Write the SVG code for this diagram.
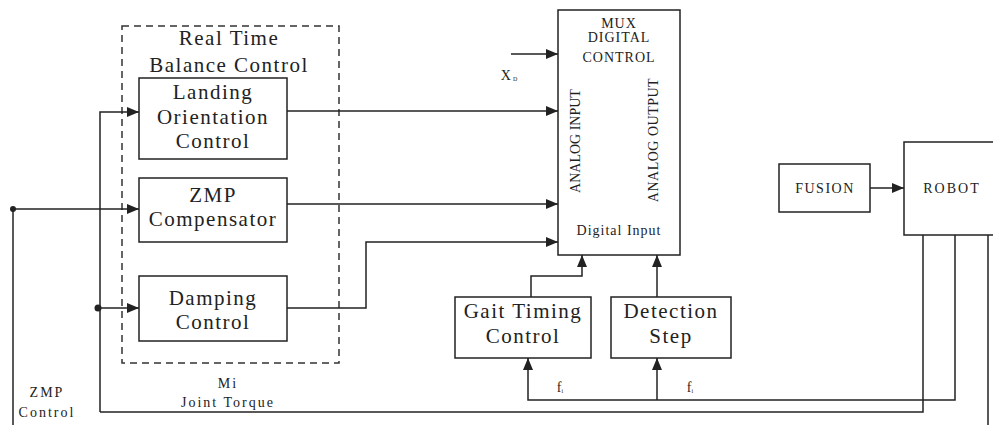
<svg xmlns="http://www.w3.org/2000/svg" width="993" height="425" viewBox="0 0 993 425">
<style>
.box{fill:#fff;stroke:#222;stroke-width:1.5}
.ln{fill:none;stroke:#222;stroke-width:1.5}
.arr{marker-end:url(#ah)}
text{font-family:"Liberation Serif","Times New Roman",Tinos,"DejaVu Serif",serif;fill:#222;text-anchor:middle}
.big{font-size:21px;letter-spacing:1.5px}
.sm{font-size:14px}
</style>
<defs>
<marker id="ah" markerUnits="userSpaceOnUse" markerWidth="13" markerHeight="10" refX="12" refY="5" orient="auto">
<path d="M0,0 L12,5 L0,10 Z" fill="#222"/>
</marker>
</defs>
<rect width="993" height="425" fill="#fff"/>

<g id="rtbc">
<rect x="122" y="26" width="217" height="337" fill="none" stroke="#333" stroke-width="1.5" stroke-dasharray="7,5"/>
<text class="big" x="229" y="45" font-size="20" letter-spacing="2">Real Time</text>
<text class="big" x="229" y="72" font-size="20" letter-spacing="2">Balance Control</text>
</g>

<g id="landing">
<rect class="box" x="139" y="78" width="148" height="81"/>
<text class="big" x="213" y="99">Landing</text>
<text class="big" x="213" y="124">Orientation</text>
<text class="big" x="213" y="148">Control</text>
</g>

<g id="zmpcomp">
<rect class="box" x="139" y="178" width="148" height="64"/>
<text class="big" x="213" y="202">ZMP</text>
<text class="big" x="213" y="226">Compensator</text>
</g>

<g id="damping">
<rect class="box" x="139" y="276" width="148" height="65"/>
<text class="big" x="213" y="305">Damping</text>
<text class="big" x="213" y="329">Control</text>
</g>

<g id="mux">
<rect class="box" x="558" y="10" width="122" height="245"/>
<text class="sm" x="619" y="28" letter-spacing="1">MUX</text>
<text class="sm" x="619" y="42" letter-spacing="1">DIGITAL</text>
<text class="sm" x="619" y="62" letter-spacing="1">CONTROL</text>
<text class="sm" transform="translate(580,141) rotate(-90)">ANALOG INPUT</text>
<text class="sm" transform="translate(658,140) rotate(-90)" letter-spacing="0.5">ANALOG OUTPUT</text>
<text class="sm" x="619" y="235" letter-spacing="1">Digital Input</text>
</g>

<g id="gait">
<rect class="box" x="455" y="297" width="136" height="61"/>
<text class="big" x="523" y="318">Gait Timing</text>
<text class="big" x="523" y="343">Control</text>
</g>

<g id="detection">
<rect class="box" x="611" y="297" width="120" height="61"/>
<text class="big" x="671" y="318">Detection</text>
<text class="big" x="671" y="343">Step</text>
</g>

<g id="fusion">
<rect class="box" x="779" y="164" width="91" height="48"/>
<text class="sm" x="825" y="193" font-size="15" letter-spacing="1.5">FUSION</text>
</g>

<g id="robot">
<rect class="box" x="904" y="142" width="95" height="93"/>
<text class="sm" x="952" y="193" font-size="15" letter-spacing="2">ROBOT</text>
</g>

<g id="connectors">
<path class="ln arr" d="M13,209 L139,209"/>
<path class="ln" d="M13,209 L13,425"/>
<circle cx="13" cy="209" r="3" fill="#222"/>
<path class="ln arr" d="M100,412 L100,112 L139,112"/>
<path class="ln arr" d="M98,308 L139,308"/>
<circle cx="98" cy="308" r="3.5" fill="#222"/>
<path class="ln arr" d="M287,111 L558,111"/>
<path class="ln arr" d="M287,204 L558,204"/>
<path class="ln arr" d="M287,308 L366,308 L366,242 L558,242"/>
<path class="ln arr" d="M511,54 L558,54"/>
<path class="ln arr" d="M531,297 L531,276 L582,276 L582,255"/>
<path class="ln arr" d="M657,297 L657,255"/>
<path class="ln arr" d="M870,188 L904,188"/>
<path class="ln" d="M100,412 L923,412 L923,235"/>
<path class="ln arr" d="M955,235 L955,400 L528,400 L528,358"/>
<path class="ln arr" d="M657,400 L657,358"/>
<path class="ln" d="M988,235 L988,425"/>
</g>

<g id="labels">
<text class="sm" x="509" y="80" font-size="13">X<tspan font-size="6" dx="2" dy="1">D</tspan></text>
<text class="sm" x="560" y="392" font-size="13">f<tspan font-size="6" dy="1">i</tspan></text>
<text class="sm" x="690" y="392" font-size="13">f<tspan font-size="6" dy="1">i</tspan></text>
<text class="sm" x="228" y="388" font-size="13" letter-spacing="2">Mi</text>
<text class="sm" x="228" y="407" font-size="13" letter-spacing="2">Joint Torque</text>
<text class="sm" x="47" y="397" letter-spacing="2">ZMP</text>
<text class="sm" x="47" y="417" letter-spacing="2">Control</text>
</g>
</svg>
